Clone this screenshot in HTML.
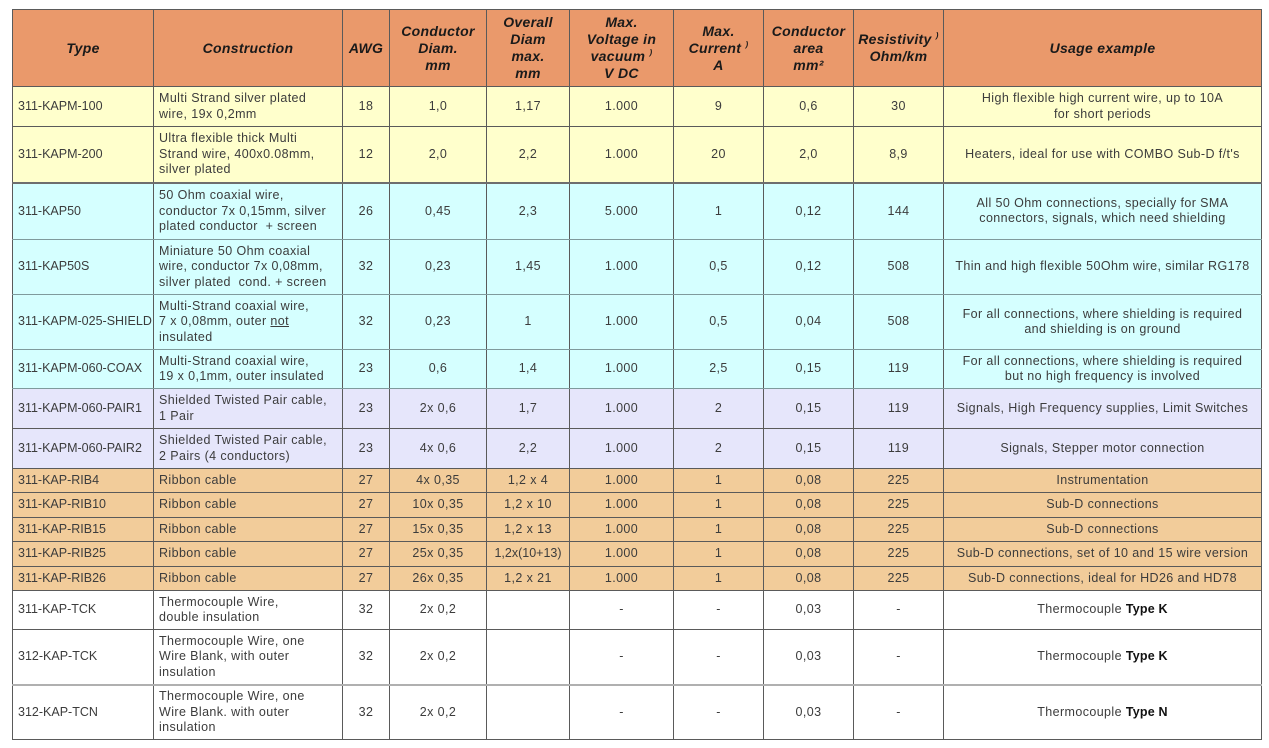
<!DOCTYPE html>
<html>
<head>
<meta charset="utf-8">
<style>
html,body{margin:0;padding:0;background:#fff;}
body{width:1269px;height:748px;position:relative;overflow:hidden;font-family:"Liberation Sans",sans-serif;}
table{position:absolute;left:12px;top:9px;width:1249px;border-collapse:collapse;table-layout:fixed;}
td,th{border:1px solid #5a5a5a;padding:0;font-size:12.5px;line-height:15.5px;color:#3c3c3c;text-align:center;vertical-align:middle;white-space:nowrap;overflow:hidden;letter-spacing:0.4px;}
th{background:#EA996B;color:#1a1a1a;font-weight:bold;font-style:italic;font-size:14px;line-height:17px;letter-spacing:0.3px;}
td.l{text-align:left;padding-left:5px;}
td.t{letter-spacing:0;}
tr.y td{background:#FFFFCC;}
tr.c td{background:#D5FFFF;}
tr.c td{border-top-color:#7f9a9c;border-bottom-color:#7f9a9c;}
tr.p td{background:#E6E6FB;}
tr.r td{background:#F2CC9A;}
tr.w td{background:#FFFFFF;}
tr.sep td{border-bottom:2px solid #6e6e6e;}
tr.sep2 td{border-bottom:2px solid #b0b0b0;}
sup{font-size:8px;vertical-align:6px;line-height:0;}
b{color:#111;letter-spacing:0.2px;}
u{text-decoration:underline;}
</style>
</head>
<body>
<table>
<colgroup>
<col style="width:141px"><col style="width:189px"><col style="width:47px"><col style="width:97px"><col style="width:83px"><col style="width:104px"><col style="width:90px"><col style="width:90px"><col style="width:90px"><col style="width:318px">
</colgroup>
<tr style="height:77px">
<th>Type</th><th>Construction</th><th>AWG</th><th>Conductor<br>Diam.<br>mm</th><th>Overall<br>Diam<br>max.<br>mm</th><th>Max.<br>Voltage in<br>vacuum <sup>)</sup><br>V DC</th><th>Max.<br>Current <sup>)</sup><br>A</th><th>Conductor<br>area<br>mm²</th><th>Resistivity <sup>)</sup><br>Ohm/km</th><th>Usage example</th>
</tr>
<tr class="y" style="height:40px">
<td class="l t">311-KAPM-100</td><td class="l">Multi Strand silver plated<br>wire, 19x 0,2mm</td><td>18</td><td>1,0</td><td>1,17</td><td>1.000</td><td>9</td><td>0,6</td><td>30</td><td>High flexible high current wire, up to 10A<br>for short periods</td>
</tr>
<tr class="y sep" style="height:56px">
<td class="l t">311-KAPM-200</td><td class="l">Ultra flexible thick Multi<br>Strand wire, 400x0.08mm,<br>silver plated</td><td>12</td><td>2,0</td><td>2,2</td><td>1.000</td><td>20</td><td>2,0</td><td>8,9</td><td>Heaters, ideal for use with COMBO Sub-D f/t's</td>
</tr>
<tr class="c" style="height:57px">
<td class="l t">311-KAP50</td><td class="l">50 Ohm coaxial wire,<br>conductor 7x 0,15mm, silver<br>plated conductor&nbsp; + screen</td><td>26</td><td>0,45</td><td>2,3</td><td>5.000</td><td>1</td><td>0,12</td><td>144</td><td>All 50 Ohm connections, specially for SMA<br>connectors, signals, which need shielding</td>
</tr>
<tr class="c" style="height:55px">
<td class="l t">311-KAP50S</td><td class="l">Miniature 50 Ohm coaxial<br>wire, conductor 7x 0,08mm,<br>silver plated&nbsp; cond. + screen</td><td>32</td><td>0,23</td><td>1,45</td><td>1.000</td><td>0,5</td><td>0,12</td><td>508</td><td>Thin and high flexible 50Ohm wire, similar RG178</td>
</tr>
<tr class="c" style="height:55px">
<td class="l t">311-KAPM-025-SHIELD</td><td class="l">Multi-Strand coaxial wire,<br>7 x 0,08mm, outer <u>not</u><br>insulated</td><td>32</td><td>0,23</td><td>1</td><td>1.000</td><td>0,5</td><td>0,04</td><td>508</td><td>For all connections, where shielding is required<br>and shielding is on ground</td>
</tr>
<tr class="c" style="height:39px">
<td class="l t">311-KAPM-060-COAX</td><td class="l">Multi-Strand coaxial wire,<br>19 x 0,1mm, outer insulated</td><td>23</td><td>0,6</td><td>1,4</td><td>1.000</td><td>2,5</td><td>0,15</td><td>119</td><td>For all connections, where shielding is required<br>but no high frequency is involved</td>
</tr>
<tr class="p" style="height:40px">
<td class="l t">311-KAPM-060-PAIR1</td><td class="l">Shielded Twisted Pair cable,<br>1 Pair</td><td>23</td><td>2x 0,6</td><td>1,7</td><td>1.000</td><td>2</td><td>0,15</td><td>119</td><td>Signals, High Frequency supplies, Limit Switches</td>
</tr>
<tr class="p" style="height:40px">
<td class="l t">311-KAPM-060-PAIR2</td><td class="l">Shielded Twisted Pair cable,<br>2 Pairs (4 conductors)</td><td>23</td><td>4x 0,6</td><td>2,2</td><td>1.000</td><td>2</td><td>0,15</td><td>119</td><td>Signals, Stepper motor connection</td>
</tr>
<tr class="r" style="height:24px">
<td class="l t">311-KAP-RIB4</td><td class="l">Ribbon cable</td><td>27</td><td>4x 0,35</td><td>1,2 x 4</td><td>1.000</td><td>1</td><td>0,08</td><td>225</td><td>Instrumentation</td>
</tr>
<tr class="r" style="height:25px">
<td class="l t">311-KAP-RIB10</td><td class="l">Ribbon cable</td><td>27</td><td>10x 0,35</td><td>1,2 x 10</td><td>1.000</td><td>1</td><td>0,08</td><td>225</td><td>Sub-D connections</td>
</tr>
<tr class="r" style="height:24px">
<td class="l t">311-KAP-RIB15</td><td class="l">Ribbon cable</td><td>27</td><td>15x 0,35</td><td>1,2 x 13</td><td>1.000</td><td>1</td><td>0,08</td><td>225</td><td>Sub-D connections</td>
</tr>
<tr class="r" style="height:25px">
<td class="l t">311-KAP-RIB25</td><td class="l">Ribbon cable</td><td>27</td><td>25x 0,35</td><td style="letter-spacing:0">1,2x(10+13)</td><td>1.000</td><td>1</td><td>0,08</td><td>225</td><td>Sub-D connections, set of 10 and 15 wire version</td>
</tr>
<tr class="r" style="height:24px">
<td class="l t">311-KAP-RIB26</td><td class="l">Ribbon cable</td><td>27</td><td>26x 0,35</td><td>1,2 x 21</td><td>1.000</td><td>1</td><td>0,08</td><td>225</td><td>Sub-D connections, ideal for HD26 and HD78</td>
</tr>
<tr class="w" style="height:39px">
<td class="l t">311-KAP-TCK</td><td class="l">Thermocouple Wire,<br>double insulation</td><td>32</td><td>2x 0,2</td><td></td><td>-</td><td>-</td><td>0,03</td><td>-</td><td>Thermocouple <b>Type K</b></td>
</tr>
<tr class="w sep2" style="height:55px">
<td class="l t">312-KAP-TCK</td><td class="l">Thermocouple Wire, one<br>Wire Blank, with outer<br>insulation</td><td>32</td><td>2x 0,2</td><td></td><td>-</td><td>-</td><td>0,03</td><td>-</td><td>Thermocouple <b>Type K</b></td>
</tr>
<tr class="w" style="height:55px">
<td class="l t">312-KAP-TCN</td><td class="l">Thermocouple Wire, one<br>Wire Blank. with outer<br>insulation</td><td>32</td><td>2x 0,2</td><td></td><td>-</td><td>-</td><td>0,03</td><td>-</td><td>Thermocouple <b>Type N</b></td>
</tr>
</table>
</body>
</html>
